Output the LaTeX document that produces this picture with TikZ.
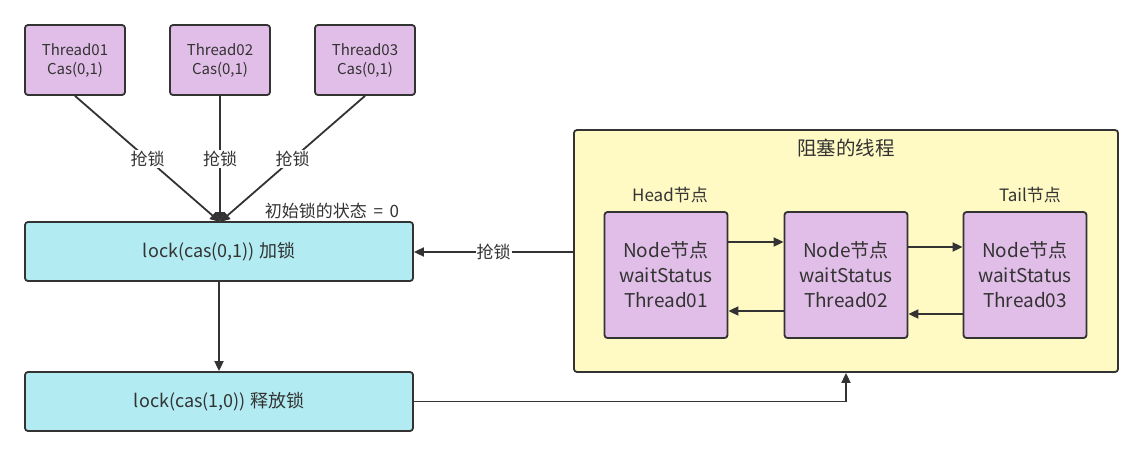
\documentclass[tikz,border=0pt]{standalone}
\usepackage{fontspec}
\setmainfont{Noto Sans CJK SC}
\usetikzlibrary{arrows.meta}
\definecolor{ink}{HTML}{333333}
\definecolor{purp}{HTML}{E1BEE7}
\definecolor{cyanb}{HTML}{B2EBF2}
\definecolor{yel}{HTML}{FFF9C4}
\tikzset{
  box/.style={draw=ink, line width=1.8pt, rounded corners=3pt, text=ink, align=center, inner sep=0pt},
  thr/.style={box, fill=purp, minimum width=100pt, minimum height=70pt, font=\fontsize{15}{19}\selectfont},
  lck/.style={box, fill=cyanb, minimum width=388pt, minimum height=59pt, font=\fontsize{18}{20}\selectfont},
  qn/.style={box, fill=purp, minimum width=123pt, minimum height=126pt, font=\fontsize{19}{25}\selectfont},
  grp/.style={box, fill=yel, minimum width=544pt, minimum height=242pt},
  arr/.style={draw=ink, line width=1.8pt, -{Triangle[length=10pt,width=9pt]}},
  lbl/.style={fill=white, text=ink, inner sep=1pt, font=\fontsize{17}{19}\selectfont},
  txt/.style={text=ink, inner sep=0pt, font=\fontsize{17}{20}\selectfont}
}
\begin{document}
\begin{tikzpicture}[x=1pt,y=-1pt]
\useasboundingbox[fill=white] (0,0) rectangle (1144,456);
\node[thr] (t1) at (75,60) {Thread01\\Cas(0,1)};
\node[thr] (t2) at (220,60) {Thread02\\Cas(0,1)};
\node[thr] (t3) at (365,60) {Thread03\\Cas(0,1)};
\node[lck] (lock) at (219,251.5) {lock(cas(0,1)) 加锁};
\node[lck] (rel) at (219,401.5) {lock(cas(1,0)) 释放锁};
\node[grp] (g) at (846,251) {};
\node[txt, font=\fontsize{19.5}{22}\selectfont] (gt) at (846,148) {阻塞的线程};
\node[qn] (n1) at (666,275) {Node节点\\waitStatus\\Thread01};
\node[qn] (n2) at (846,275) {Node节点\\waitStatus\\Thread02};
\node[qn] (n3) at (1025,275) {Node节点\\waitStatus\\Thread03};
\node[txt] (hl) at (670,195) {Head节点};
\node[txt] (tl) at (1030,195) {Tail节点};
\node[txt] (init) at (332,211) {初始锁的状态\ \,=\ \,0};
\coordinate (lk) at (220,222);
\draw[arr] (t1.south) -- node[lbl] {抢锁} (lk);
\draw[arr] (t2.south) -- node[lbl] {抢锁} (lk);
\draw[arr] (t3.south) -- node[lbl] {抢锁} (lk);
\draw[arr] (lock.south) -- (rel.north);
\draw[arr] (g.west |- 0,252) -- node[lbl, pos=0.5] {抢锁} (lock.east |- 0,252);
\draw[arr] (rel.east) -| (g.south);
\draw[arr] (n1.east |- 0,242) -- (n2.west |- 0,242);
\draw[arr] (n2.west |- 0,311) -- (n1.east |- 0,311);
\draw[arr] (n2.east |- 0,247) -- (n3.west |- 0,247);
\draw[arr] (n3.west |- 0,314) -- (n2.east |- 0,314);
\end{tikzpicture}
\end{document}
